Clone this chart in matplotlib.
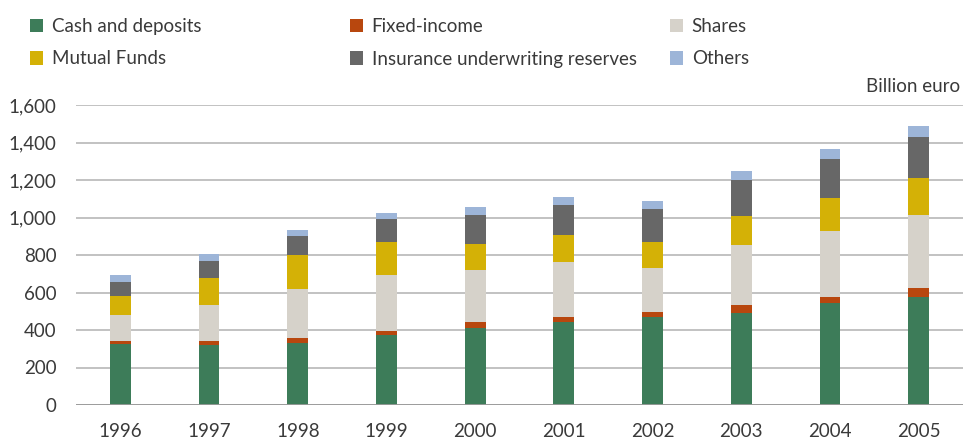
import matplotlib
matplotlib.use("Agg")
import matplotlib.pyplot as plt
import numpy as np
from matplotlib.patches import Patch

# household financial assets, billion euro
years = ['1996', '1997', '1998', '1999', '2000', '2001', '2002', '2003', '2004', '2005']
cash = [328, 321, 332, 374, 412, 444, 471, 492, 542, 578]
fixed_income = [14, 21, 26, 21, 32, 27, 27, 43, 36, 48]
shares = [139, 193, 262, 300, 278, 294, 235, 316, 348, 385]
mutual_funds = [102, 145, 182, 176, 139, 144, 134, 155, 176, 198]
insurance = [75, 86, 102, 123, 150, 160, 176, 193, 209, 219]
others = [37, 37, 32, 32, 43, 43, 43, 48, 53, 59]

series_names = ['Cash and deposits', 'Fixed-income', 'Shares',
                'Mutual Funds', 'Insurance underwriting reserves', 'Others']
colors = ['#3d7c59', '#b8470e', '#d6d2ca', '#d4b106', '#676767', '#9db5d8']

plt.rcParams['font.family'] = ['Lato', 'DejaVu Sans']
text_col = '#3a3a3a'

fig = plt.figure(figsize=(9.63, 4.45), dpi=100)
ax = fig.add_axes([76/963, 40/445, 887/963, 300/445])

x = np.arange(len(years))
bottom = np.zeros(len(years))
for vals, name, c in zip([cash, fixed_income, shares, mutual_funds, insurance, others],
                         series_names, colors):
    ax.bar(x, vals, width=0.235, bottom=bottom, color=c, label=name, zorder=3)
    bottom += np.array(vals)

ax.set_xlim(-0.5, len(years) - 0.5)
ax.set_ylim(0, 1600)
ax.set_yticks(range(0, 1601, 200))
ax.set_yticklabels([f'{v:,}' for v in range(0, 1601, 200)])
ax.set_xticks(x)
ax.set_xticklabels(years)
ax.tick_params(axis='both', length=0, labelsize=13.5, colors=text_col)
ax.tick_params(axis='y', pad=14)
ax.tick_params(axis='x', pad=13)
ax.grid(axis='y', color='#bdbdbd', linewidth=1.3, zorder=0)
ax.set_axisbelow(True)
for s in ax.spines.values():
    s.set_visible(False)
ax.axhline(0, color='#9a9a9a', linewidth=1.3, zorder=4)

ax.text(0.997, 1.035, 'Billion euro', transform=ax.transAxes, ha='right', va='bottom',
        fontsize=13.5, color=text_col)

# legend: three columns, two rows each
handles = [Patch(facecolor=c, edgecolor='none') for c in colors]
col_x = [17/963, 337/963, 657/963]
for i in range(3):
    lg = fig.legend([handles[i], handles[i + 3]], [series_names[i], series_names[i + 3]],
                    loc='upper left', bbox_to_anchor=(col_x[i], 1 - 5/445), frameon=False,
                    fontsize=13.5, handlelength=0.7, handleheight=0.7,
                    handletextpad=0.45, labelspacing=0.82, borderaxespad=0.3)
    for t in lg.get_texts():
        t.set_color(text_col)

fig.savefig('out.png', dpi=100)
